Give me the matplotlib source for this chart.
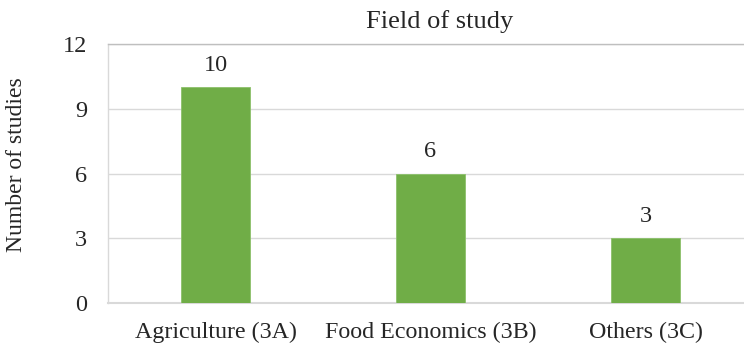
import matplotlib
matplotlib.use("Agg")
import matplotlib.pyplot as plt

categories = ["Agriculture (3A)", "Food Economics (3B)", "Others (3C)"]
values = [10, 6, 3]
yticks = [0, 3, 6, 9, 12]
title = "Field of study"
ylabel = "Number of studies"

plt.rcParams['font.family'] = ['Liberation Serif', 'DejaVu Serif']
W, H = 744, 346
fig = plt.figure(figsize=(W/100, H/100), dpi=100)
left, right, top, bottom = 108, 753, 44, 303
ax = fig.add_axes([left/W, (H-bottom)/H, (right-left)/W, (bottom-top)/H])

txt = '#262626'
x = list(range(len(categories)))
bars = ax.bar(x, values, width=0.325, color='#70AD47', edgecolor='#8CC06A', linewidth=0.6, zorder=3)
for xi, v in zip(x, values):
    ax.annotate(str(v), (xi, v), xytext=(0, 8), textcoords='offset points',
                ha='center', va='bottom', fontsize=17.5, color=txt)

ax.set_xlim(-0.5, len(categories)-0.5)
ax.set_ylim(0, 12)
ax.set_yticks(yticks)
ax.set_yticklabels([str(t) for t in yticks])
ax.set_xticks(x)
ax.set_xticklabels(categories, fontsize=17.3)
ax.tick_params(axis='y', length=0, labelsize=17.5, colors=txt, pad=15)
ax.tick_params(axis='x', length=0, colors=txt, pad=13.5)
ax.yaxis.grid(True, color='#D9D9D9', linewidth=1.0, zorder=0)
ax.set_axisbelow(True)
ax.spines['right'].set_visible(False)
ax.spines['top'].set_color('#BFBFBF')
ax.spines['top'].set_linewidth(1.0)
ax.spines['left'].set_color('#D9D9D9')
ax.spines['left'].set_linewidth(1.0)
ax.spines['bottom'].set_color('#D9D9D9')
ax.spines['bottom'].set_linewidth(1.5)

fig.text(439.5/W, 1-22/H, title, ha='center', va='center', fontsize=19, color=txt)
fig.text(17/W, 1-165/H, ylabel, ha='center', va='center', rotation=90, fontsize=17, color=txt)

fig.savefig("out.png", dpi=100, facecolor='white')
